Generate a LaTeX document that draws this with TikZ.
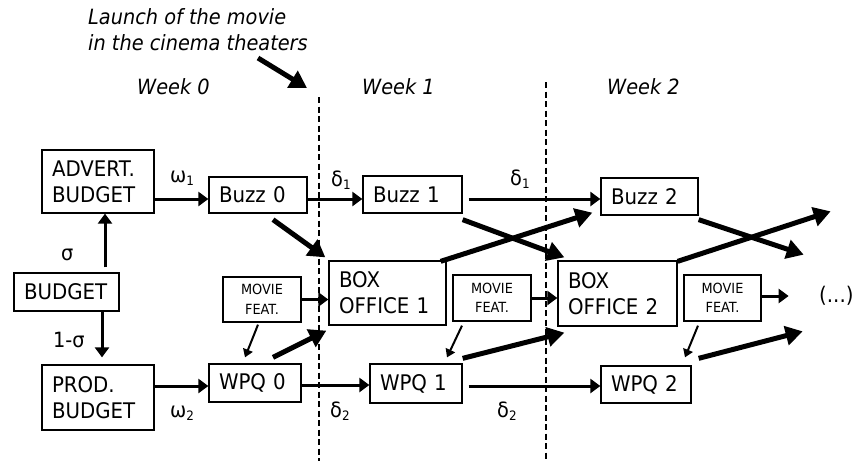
\documentclass[tikz,border=0pt]{standalone}
\usepackage{fontspec}
\setmainfont{DejaVu Sans}[FakeStretch=0.92]
\usetikzlibrary{arrows.meta,calc}
\newcommand\sbs[1]{\raisebox{-3pt}{\fontsize{13}{13}\selectfont #1}}
\begin{document}
\begin{tikzpicture}[x=1pt,y=-1pt,
 box/.style={draw, line width=1.3pt, inner xsep=10pt, inner ysep=0pt, align=left, font=\fontsize{21.5}{26}\selectfont},
 mf/.style={draw, line width=1.3pt, inner sep=0pt, align=center, font=\fontsize{14}{19.5}\selectfont},
 thinarr/.style={line width=3pt, -{Triangle[length=10pt,width=14pt]}},
 thickarr/.style={line width=5pt, -{Triangle[length=17pt,width=19pt]}},
 smallarr/.style={line width=2pt, -{Triangle[length=8pt,width=10pt]}},
 lbl/.style={anchor=base west, inner sep=0pt, font=\fontsize{21}{24}\selectfont},
 wk/.style={anchor=base west, inner sep=0pt, font=\fontsize{21}{25}\selectfont\itshape},
 sepline/.style={line width=1.2pt, dash pattern=on 6pt off 3.5pt}
]
\useasboundingbox (0,0) rectangle (857,461);

% separators
\coordinate (s1t) at (319,97); \coordinate (s1b) at (319,461);
\coordinate (s2t) at (546,82); \coordinate (s2b) at (546,461);
\draw[sepline] (s1t) -- (s1b);
\draw[sepline] (s2t) -- (s2b);

% boxes
\node[box, text width=92pt, minimum height=63pt] (adv) at (98,181.5) {ADVERT.\\BUDGET};
\node[box, text width=85pt, minimum height=38pt] (bud) at (66.5,292) {BUDGET};
\node[box, text width=92pt, minimum height=65pt] (prod) at (98,397.5) {PROD.\\BUDGET};
\node[box, text width=78pt, minimum height=36pt] (bz0) at (258,195) {Buzz 0};
\node[box, text width=79pt, minimum height=37pt] (bz1) at (412.5,194.5) {Buzz 1};
\node[box, text width=77pt, minimum height=37pt] (bz2) at (649.5,196.5) {Buzz 2};
\node[box, text width=97pt, minimum height=64pt] (bo1) at (387.5,293) {BOX\\OFFICE 1};
\node[box, text width=99pt, minimum height=65pt] (bo2) at (617.5,293.5) {BOX\\OFFICE 2};
\node[mf, text width=78pt, minimum height=45pt] (mf0) at (262,299.5) {MOVIE\\FEAT.};
\node[mf, text width=78pt, minimum height=46pt] (mf1) at (492,298) {MOVIE\\FEAT.};
\node[mf, text width=77pt, minimum height=46pt] (mf2) at (722.5,298) {MOVIE\\FEAT.};
\node[box, text width=72pt, minimum height=38pt] (wpq0) at (255,383) {WPQ 0};
\node[box, text width=72pt, minimum height=39pt] (wpq1) at (416,383.5) {WPQ 1};
\node[box, text width=70pt, minimum height=37pt] (wpq2) at (646,384.5) {WPQ 2};

% horizontal arrows
\coordinate (bz0in) at ($(bz0.west)+(0,4)$);
\draw[thinarr] (adv.east |- bz0in) -- (bz0in);
\coordinate (bz1in) at ($(bz1.west)+(0,4.5)$);
\draw[thinarr] (bz0.east |- bz1in) -- (bz1in);
\coordinate (bz2in) at ($(bz2.west)+(0,2.5)$);
\coordinate (bz1out) at ($(bz1.east |- bz2in)+(6,0)$);
\draw[thinarr] (bz1out) -- (bz2in);
\coordinate (w0in) at ($(wpq0.west)+(0,3)$);
\draw[thinarr] (prod.east |- w0in) -- (w0in);
\coordinate (w1in) at ($(wpq1.west)+(0,1.5)$);
\draw[thinarr] (wpq0.east |- w1in) -- (w1in);
\coordinate (w2in) at ($(wpq2.west)+(0,1.5)$);
\coordinate (w1out) at ($(wpq1.east |- w2in)+(6,0)$);
\draw[thinarr] (w1out) -- (w2in);
\draw[thinarr] (mf0.east) -- (bo1.west |- mf0.east);
\draw[thinarr] (mf1.east) -- (bo2.west |- mf1.east);
\coordinate (mf2s) at ($(mf2.east)+(0,-2)$);
\coordinate (mf2out) at ($(mf2.east)+(27,-2)$);
\draw[thinarr] (mf2s) -- (mf2out);

% vertical arrows
\coordinate (budup) at ($(bud.north)+(38.5,-5)$);
\draw[thinarr] (budup) -- (budup |- adv.south);
\coordinate (buddn) at ($(bud.south)+(35.5,0)$);
\coordinate (proddn) at ($(prod.north)+(4,-7)$);
\draw[thinarr] (buddn) -- (proddn);

% thick diagonals
\draw[thickarr] ($(bz0.south)+(15,6)$) -- ($(bo1.north west)+(-3,-3)$);
\draw[thickarr] ($(bz1.south east)+(0,6)$) -- ($(bo2.north west)+(7,-3)$);
\draw[thickarr] ($(bo1.north east)+(-6,1)$) -- ($(bz2.south west)+(-8,-3)$);
\coordinate (bz2out) at ($(bz2.south east)+(105,39)$);
\draw[thickarr] ($(bz2.south east)+(0,4)$) -- (bz2out);
\coordinate (bo2out) at ($(bo2.north east)+(153,-49)$);
\draw[thickarr] ($(bo2.north east)+(0,1)$) -- (bo2out);
\draw[thickarr] ($(wpq0.north)+(18,-6)$) -- ($(bo1.south west)+(-2,5)$);
\draw[thickarr] ($(wpq1.north east)+(0,-5)$) -- ($(bo2.south west)+(7,6)$);
\coordinate (wpq2out) at ($(wpq2.north east)+(111,-34)$);
\draw[thickarr] ($(wpq2.north east)+(7,-7)$) -- (wpq2out);

% small diagonals
\draw[smallarr] ($(mf0.south)+(-4,2)$) -- ($(wpq0.north)+(-10,-6)$);
\draw[smallarr] ($(mf1.south)+(-30,4)$) -- ($(wpq1.north)+(31,-6)$);
\draw[smallarr] ($(mf2.south)+(-24.5,4)$) -- ($(wpq2.north)+(39,-8)$);

% launch
\node[wk] (l1) at (88,24.3) {Launch of the movie};
\node[wk] (l2) at (88,50) {in the cinema theaters};
\coordinate (la) at (258,58); \coordinate (lb) at (307,88);
\draw[thickarr] (la) -- (lb);

% weeks
\node[wk] (w0) at (137,94.3) {Week 0};
\node[wk] (w1) at (362,94.3) {Week 1};
\node[wk] (w2) at (607,94.3) {Week 2};

% labels
\node[lbl] (om1) at (170,182) {ω\sbs{1}};
\node[lbl] (de1a) at (331,186) {δ\sbs{1}};
\node[lbl] (de1b) at (510,185) {δ\sbs{1}};
\node[lbl] (sig) at (61,260) {σ};
\node[lbl] (sig1) at (53,347) {1-σ};
\node[lbl] (om2) at (170,417) {ω\sbs{2}};
\node[lbl] (de2a) at (330,417) {δ\sbs{2}};
\node[lbl] (de2b) at (497,417) {δ\sbs{2}};
\node[anchor=west, inner sep=0pt, font=\fontsize{21.5}{26}\selectfont] (dots) at (819,296) {(...)};
\end{tikzpicture}
\end{document}
